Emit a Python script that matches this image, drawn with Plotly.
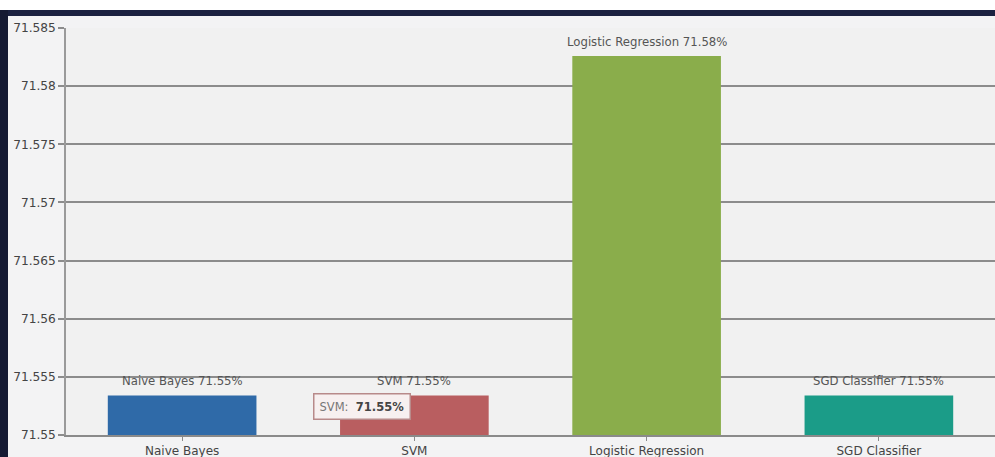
import plotly.graph_objects as go

categories = ["Naive Bayes", "SVM", "Logistic Regression", "SGD Classifier"]
accuracy = [71.5534, 71.5534, 71.5826, 71.5534]
bar_colors = ["#2f6aa8", "#b95e60", "#8aad4b", "#1b9c88"]
y_tick_vals = [71.55, 71.555, 71.56, 71.565, 71.57, 71.575, 71.58, 71.585]
y_tick_text = ["71.55", "71.555", "71.56", "71.565", "71.57", "71.575", "71.58", "71.585"]
tooltip_category = "SVM"

W, H = 995, 457
ML, MT, MB, MR = 66, 28, 22, 0
PW, PH = W - ML - MR, H - MT - MB

def px_x(p):
    return (p - ML) / PW

def px_y(p):
    return (H - MB - p) / PH

fig = go.Figure()
fig.add_trace(go.Bar(
    x=categories, y=accuracy,
    marker=dict(color=bar_colors, line=dict(width=0)),
    hoverinfo="skip",
))

annotations = []
for c, v in zip(categories, accuracy):
    annotations.append(dict(
        x=c, y=v, xref="x", yref="y", yanchor="bottom", yshift=5,
        text=f"{c} {v:.2f}%", showarrow=False,
        font=dict(family="DejaVu Sans", size=11.7, color="#555555"),
    ))

ti = categories.index(tooltip_category)
annotations.append(dict(
    x=px_x(362), y=px_y(406), xref="paper", yref="paper",
    xanchor="center", yanchor="middle",
    text=f"<span style='color:#777'>{tooltip_category}:</span>  <b>{accuracy[ti]:.2f}%</b>",
    showarrow=False, font=dict(family="DejaVu Sans", size=11.5, color="#444444"),
    bgcolor="#f7f0f0", bordercolor="#b88a8a", borderwidth=1.5, borderpad=5,
))

shapes = [
    dict(type="rect", xref="paper", yref="paper", x0=px_x(-5), x1=px_x(1000),
         y0=px_y(10), y1=px_y(-5), fillcolor="#ffffff", line=dict(width=0), layer="below"),
    dict(type="rect", xref="paper", yref="paper", x0=px_x(-5), x1=px_x(1000),
         y0=px_y(16), y1=px_y(10), fillcolor="#1b2140", line=dict(width=0), layer="below"),
    dict(type="rect", xref="paper", yref="paper", x0=px_x(-5), x1=px_x(8),
         y0=px_y(462), y1=px_y(10), fillcolor="#151a33", line=dict(width=0), layer="below"),
]

fig.update_layout(
    width=W, height=H,
    margin=dict(l=ML, r=MR, t=MT, b=MB, pad=0, autoexpand=False),
    paper_bgcolor="#f3f3f4",
    plot_bgcolor="#f1f1f1",
    bargap=0.36,
    showlegend=False,
    annotations=annotations,
    shapes=shapes,
    font=dict(family="DejaVu Sans", color="#444444"),
)
fig.update_xaxes(
    automargin=False,
    showgrid=False, showline=True, linecolor="#8a8a8a", linewidth=1.5,
    ticks="outside", ticklen=4, tickcolor="#8a8a8a", tickwidth=1,
    tickfont=dict(family="DejaVu Sans", size=12, color="#444444"),
    ticklabelstandoff=0,
    zeroline=False,
)
fig.update_yaxes(
    automargin=False,
    range=[71.55, 71.585], tickvals=y_tick_vals, ticktext=y_tick_text,
    showgrid=True, gridcolor="#8c8c8c", gridwidth=1.5,
    showline=True, linecolor="#9a9a9a", linewidth=1.5,
    ticks="outside", ticklen=6, tickcolor="#8c8c8c", tickwidth=1.5,
    tickfont=dict(family="DejaVu Sans", size=12.2, color="#444444"),
    zeroline=False,
)

fig.write_html(
    "out.html",
    config={"displayModeBar": False},
    post_script="document.body.style.margin='0';document.body.style.overflow='hidden';",
)
